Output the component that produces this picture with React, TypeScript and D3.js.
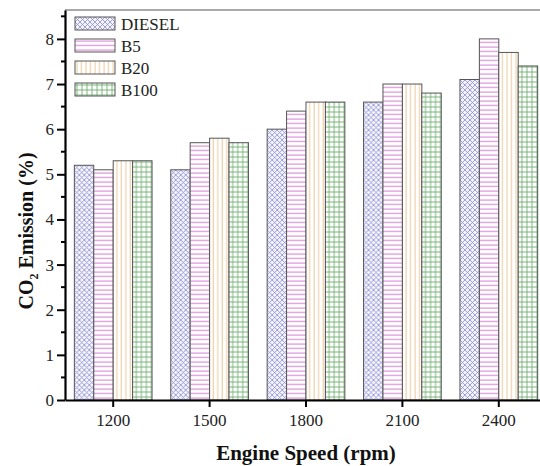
import React, { useEffect, useRef } from "react";
import * as d3 from "d3";

const speeds = ["1200", "1500", "1800", "2100", "2400"];
const fuels = ["DIESEL", "B5", "B20", "B100"];
const diesel = [5.2, 5.1, 6.0, 6.6, 7.1];
const b5 = [5.1, 5.7, 6.4, 7.0, 8.0];
const b20 = [5.3, 5.8, 6.6, 7.0, 7.7];
const b100 = [5.3, 5.7, 6.6, 6.8, 7.4];
const yTicks = [0, 1, 2, 3, 4, 5, 6, 7, 8];

const series = [diesel, b5, b20, b100];

const W = 540;
const H = 466;
const margin = { left: 65, top: 10, bottom: 400, right: 547 };

export default function App() {
  const ref = useRef<SVGSVGElement>(null);

  useEffect(() => {
    const svg = d3.select(ref.current);
    svg.selectAll("*").remove();

    const defs = svg.append("defs");
    // DIESEL: blue diagonal cross hatch
    const p0 = defs.append("pattern").attr("id", "pat0").attr("patternUnits", "userSpaceOnUse")
      .attr("width", 5).attr("height", 5);
    p0.append("rect").attr("width", 5).attr("height", 5).attr("fill", "#f4f4fc");
    p0.append("path").attr("d", "M0,0L5,5M5,0L0,5").attr("stroke", "#8a8ad6").attr("stroke-width", 0.8);
    // B5: magenta horizontal
    const p1 = defs.append("pattern").attr("id", "pat1").attr("patternUnits", "userSpaceOnUse")
      .attr("width", 4).attr("height", 4.5);
    p1.append("rect").attr("width", 4).attr("height", 4.5).attr("fill", "#fff");
    p1.append("path").attr("d", "M0,2L4,2").attr("stroke", "#d47ad4").attr("stroke-width", 1);
    // B20: orange vertical
    const p2 = defs.append("pattern").attr("id", "pat2").attr("patternUnits", "userSpaceOnUse")
      .attr("width", 4.5).attr("height", 4);
    p2.append("rect").attr("width", 4.5).attr("height", 4).attr("fill", "#fff");
    p2.append("path").attr("d", "M2,0L2,4").attr("stroke", "#ecc99a").attr("stroke-width", 1);
    // B100: green grid
    const p3 = defs.append("pattern").attr("id", "pat3").attr("patternUnits", "userSpaceOnUse")
      .attr("width", 5).attr("height", 5);
    p3.append("rect").attr("width", 5).attr("height", 5).attr("fill", "#fff");
    p3.append("path").attr("d", "M2,0L2,5M0,2L5,2").attr("stroke", "#6eae6e").attr("stroke-width", 0.9);

    const x = d3.scaleBand().domain(speeds).range([margin.left, margin.right]).paddingInner(0.194).paddingOuter(0.097);
    const x1 = d3.scaleBand().domain(fuels).range([0, x.bandwidth()]);
    const y = d3.scaleLinear().domain([0, 8.64]).range([margin.bottom, margin.top]);

    // top frame
    svg.append("line").attr("x1", margin.left).attr("x2", margin.right)
      .attr("y1", margin.top).attr("y2", margin.top).attr("stroke", "#555").attr("stroke-width", 1.2);

    const groups = svg.append("g").selectAll("g").data(speeds).join("g")
      .attr("transform", (d) => `translate(${x(d)},0)`);
    groups.selectAll("rect")
      .data((d, i) => fuels.map((f, k) => ({ f, k, v: series[k][i] })))
      .join("rect")
      .attr("x", (d) => x1(d.f)!)
      .attr("y", (d) => y(d.v))
      .attr("width", x1.bandwidth())
      .attr("height", (d) => y(0) - y(d.v))
      .attr("fill", (d) => `url(#pat${d.k})`)
      .attr("stroke", "#555")
      .attr("stroke-width", 1);

    // y axis
    const yAxis = svg.append("g").attr("transform", `translate(${margin.left},0)`);
    yAxis.call(d3.axisLeft(y).tickValues(yTicks).tickSize(8).tickSizeOuter(0).tickPadding(3));
    yAxis.selectAll(".tick line").attr("stroke-width", 2);
    yAxis.append("g").selectAll("line").data(d3.range(0.5, 8.6, 1)).join("line")
      .attr("x1", -4).attr("x2", 0).attr("y1", (d) => y(d)).attr("y2", (d) => y(d))
      .attr("stroke", "#000").attr("stroke-width", 2);
    yAxis.select(".domain").attr("stroke-width", 2.2);

    // x axis
    const xAxis = svg.append("g").attr("transform", `translate(0,${margin.bottom})`);
    xAxis.call(d3.axisBottom(x).tickSize(7).tickSizeOuter(0).tickPadding(7));
    xAxis.selectAll(".tick line").attr("stroke-width", 2);
    xAxis.select(".domain").attr("stroke-width", 2.2);

    svg.selectAll(".tick text").attr("font-family", "Liberation Serif, Times New Roman, serif")
      .attr("font-size", 17).attr("fill", "#222");

    // titles
    svg.append("text").attr("x", 306).attr("y", 460).attr("text-anchor", "middle")
      .attr("font-family", "Liberation Serif, serif").attr("font-weight", "bold").attr("font-size", 21)
      .attr("fill", "#111").text("Engine Speed (rpm)");
    const yt = svg.append("text").attr("transform", "translate(33,231) rotate(-90)").attr("text-anchor", "middle")
      .attr("font-family", "Liberation Serif, serif").attr("font-weight", "bold").attr("font-size", 20)
      .attr("fill", "#111");
    yt.append("tspan").text("CO");
    yt.append("tspan").attr("font-size", 12).attr("dy", 5).text("2");
    yt.append("tspan").attr("dy", -5).text(" Emission (%)");

    // legend
    const lg = svg.append("g").selectAll("g").data(fuels).join("g")
      .attr("transform", (d, i) => `translate(75,${17 + i * 22})`);
    lg.append("rect").attr("width", 40).attr("height", 13)
      .attr("fill", (d, i) => `url(#pat${i})`).attr("stroke", "#555").attr("stroke-width", 1);
    lg.append("text").attr("x", 46).attr("y", 12.5).attr("font-family", "Liberation Serif, serif")
      .attr("font-size", 17).attr("fill", "#222").text((d) => d);
  }, []);

  return <svg ref={ref} width={W} height={H} style={{ position: "absolute", left: 0, top: 0 }} />;
}
